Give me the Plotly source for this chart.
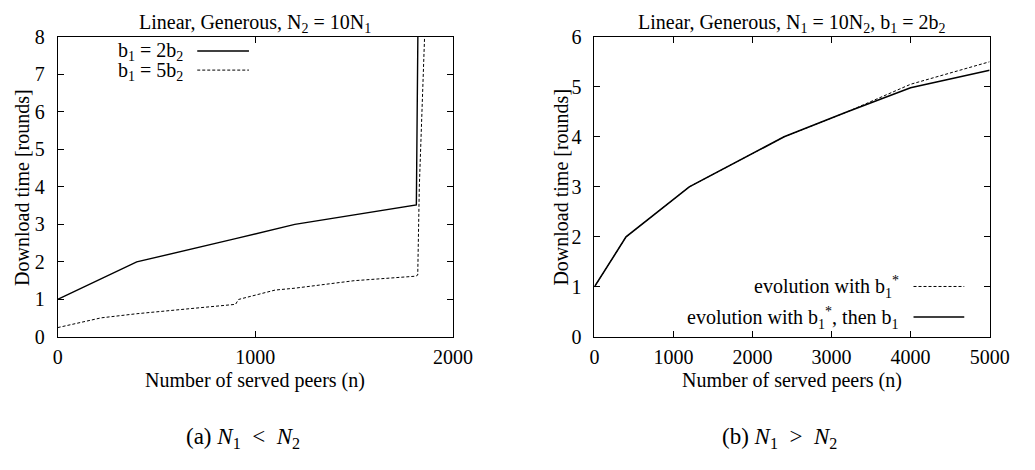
import plotly.graph_objects as go

# ---- data: left panel (N2 = 10 N1) ----
left_x_b2 = [0, 400, 900, 1200, 1815, 1822, 1826]
left_y_b2 = [1.0, 2.0, 2.62, 3.0, 3.52, 8.0, 10.0]
left_x_b5 = [0, 220, 400, 900, 915, 1100, 1200, 1500, 1812, 1822, 1830, 1857, 1860]
left_y_b5 = [0.25, 0.51, 0.62, 0.87, 1.0, 1.25, 1.3, 1.5, 1.62, 1.65, 4.0, 8.0, 8.5]

# ---- data: right panel (N1 = 10 N2, b1 = 2 b2) ----
right_x = [0, 400, 1200, 2400, 3200, 4000, 5000]
right_y_star = [1.0, 2.0, 3.0, 4.0, 4.5, 5.05, 5.5]
right_y_then = [1.0, 2.0, 3.0, 4.0, 4.5, 4.98, 5.33]

left_ticks_x = [0, 1000, 2000]
left_ticks_y = [0, 1, 2, 3, 4, 5, 6, 7, 8]
right_ticks_x = [0, 1000, 2000, 3000, 4000, 5000]
right_ticks_y = [0, 1, 2, 3, 4, 5, 6]

FONT = "Times New Roman, Liberation Serif, DejaVu Serif, serif"
FS = 20
W, H = 1035, 470

def px(x):
    return x / W

def py(y):
    return 1 - y / H

fig = go.Figure()
fig.add_trace(go.Scatter(x=left_x_b2, y=left_y_b2, mode="lines",
                         line=dict(color="black", width=1.4), xaxis="x", yaxis="y",
                         showlegend=False))
fig.add_trace(go.Scatter(x=left_x_b5, y=left_y_b5, mode="lines",
                         line=dict(color="black", width=1, dash="3px,2px"), xaxis="x", yaxis="y",
                         showlegend=False))
fig.add_trace(go.Scatter(x=right_x, y=right_y_star, mode="lines",
                         line=dict(color="black", width=1, dash="3px,2px"), xaxis="x2", yaxis="y2",
                         showlegend=False))
fig.add_trace(go.Scatter(x=right_x, y=right_y_then, mode="lines",
                         line=dict(color="black", width=1.6), xaxis="x2", yaxis="y2",
                         showlegend=False))

ydom = [py(342), py(27)]
common = dict(showline=True, linecolor="black", linewidth=1, mirror="ticks",
              ticks="inside", ticklen=6, tickcolor="black", tickwidth=1,
              showgrid=False, zeroline=False,
              tickfont=dict(family=FONT, size=FS, color="black"))
xcommon = dict(common, ticklabelstandoff=2)
ycommon = dict(common, ticklabelstandoff=8)

fig.update_layout(
    width=W, height=H, margin=dict(l=0, r=0, t=0, b=0),
    plot_bgcolor="white", paper_bgcolor="white",
    font=dict(family=FONT, color="black", size=FS),
    xaxis=dict(domain=[px(54), px(459)], range=[0, 2000], tickvals=left_ticks_x,
               anchor="y", **xcommon),
    yaxis=dict(domain=ydom, range=[0, 8], tickvals=left_ticks_y, anchor="x", **ycommon),
    xaxis2=dict(domain=[px(604), px(1009)], range=[0, 5000], tickvals=right_ticks_x,
                anchor="y2", **xcommon),
    yaxis2=dict(domain=ydom, range=[0, 6], tickvals=right_ticks_y, anchor="x2", **ycommon),
)

ann = []
def text(x, y, t, size=FS, xanchor="center", yanchor="middle", angle=0):
    ann.append(dict(x=px(x), y=py(y), xref="paper", yref="paper", text=t, showarrow=False,
                    xanchor=xanchor, yanchor=yanchor, textangle=angle,
                    font=dict(family=FONT, size=size, color="black")))

# titles
text(256, 13, "Linear, Generous, N<sub>2</sub> = 10N<sub>1</sub>")
text(806, 13, "Linear, Generous, N<sub>1</sub> = 10N<sub>2</sub>, b<sub>1</sub> = 2b<sub>2</sub>")
# axis titles
text(256, 388, "Number of served peers (n)")
text(806, 388, "Number of served peers (n)")
text(18, 185, "Download time [rounds]", angle=-90)
text(570, 185, "Download time [rounds]", angle=-90)
# legends
text(184, 43, "b<sub>1</sub> = 2b<sub>2</sub>", xanchor="right")
text(184, 63, "b<sub>1</sub> = 5b<sub>2</sub>", xanchor="right")
text(918, 290, "evolution with b<sub>1</sub><sup>*</sup>", xanchor="right")
text(918, 322, "evolution with b<sub>1</sub><sup>*</sup>, then b<sub>1</sub>", xanchor="right")
# captions
text(244, 448, "(a) <i>N</i><sub>1</sub>&nbsp;&nbsp;&lt;&nbsp;&nbsp;<i>N</i><sub>2</sub>", size=23)
text(794, 448, "(b) <i>N</i><sub>1</sub>&nbsp;&nbsp;&gt;&nbsp;&nbsp;<i>N</i><sub>2</sub>", size=23)
fig.update_layout(annotations=ann)

shapes = [
    dict(type="line", xref="paper", yref="paper", x0=px(197), x1=px(250), y0=py(42), y1=py(42),
         line=dict(color="black", width=1.4)),
    dict(type="line", xref="paper", yref="paper", x0=px(197), x1=px(250), y0=py(62), y1=py(62),
         line=dict(color="black", width=1, dash="3px,2px")),
    dict(type="line", xref="paper", yref="paper", x0=px(931), x1=px(983), y0=py(289), y1=py(289),
         line=dict(color="black", width=1, dash="3px,2px")),
    dict(type="line", xref="paper", yref="paper", x0=px(931), x1=px(983), y0=py(321), y1=py(321),
         line=dict(color="black", width=1.6)),
]
fig.update_layout(shapes=shapes)

fig.write_html("out.html")
